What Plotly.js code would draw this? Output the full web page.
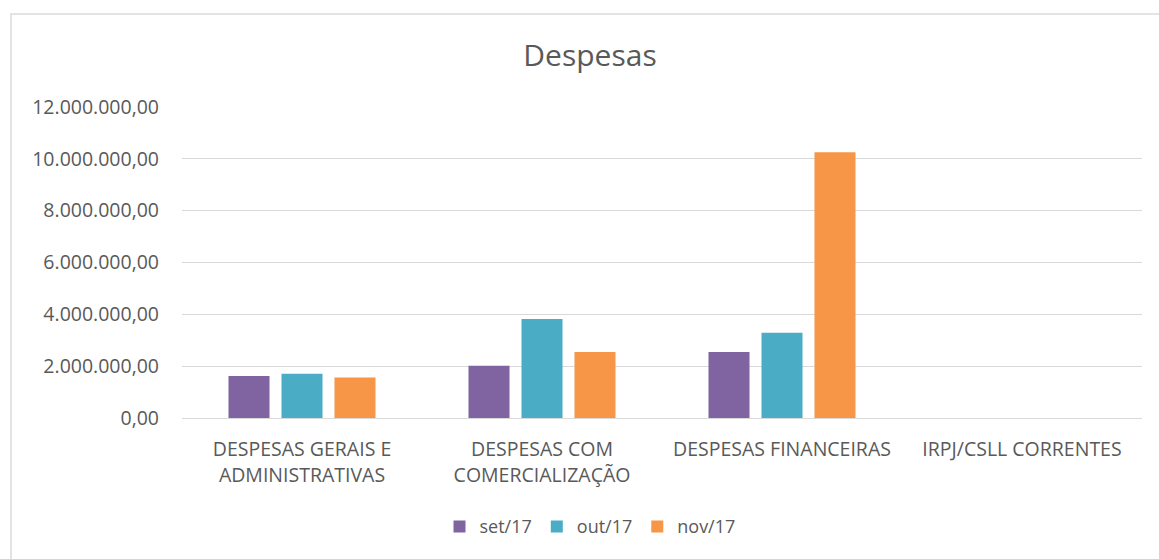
<!DOCTYPE html>
<html>
<head>
<meta charset="utf-8">
<script src="https://cdn.plot.ly/plotly-3.0.1.min.js"></script>
<style>
  html, body { margin: 0; padding: 0; background: #ffffff; }
  #wrap { position: relative; width: 1159px; height: 559px; overflow: hidden; }
  #chart { position: absolute; left: 0; top: 0; width: 1159px; height: 559px; }
  #frame { position: absolute; left: 10px; top: 13px; width: 1300px; height: 700px;
           border-left: 2px solid #e3e3e3; border-top: 2px solid #e3e3e3; pointer-events: none; }
</style>
</head>
<body>
<div id="wrap">
  <div id="chart"></div>
  <div id="frame"></div>
</div>
<script>
const categories = [
  "DESPESAS GERAIS E<br>ADMINISTRATIVAS",
  "DESPESAS COM<br>COMERCIALIZAÇÃO",
  "DESPESAS FINANCEIRAS",
  "IRPJ/CSLL CORRENTES"
];
const seriesNames = ["set/17", "out/17", "nov/17"];
const set17 = [1620000, 2020000, 2550000, 0];
const out17 = [1710000, 3820000, 3290000, 0];
const nov17 = [1560000, 2550000, 10250000, 0];
const colors = ["#8064A2", "#4BACC6", "#F79646"];
const yTicks = [0, 2000000, 4000000, 6000000, 8000000, 10000000, 12000000];

const FONT = "'Open Sans', 'Noto Sans', sans-serif";
const seriesValues = [set17, out17, nov17];

const traces = seriesValues.map((vals, i) => ({
  type: "bar",
  name: seriesNames[i],
  x: categories,
  y: vals,
  marker: { color: colors[i], line: { width: 0 } },
  hoverinfo: "x+y+name"
}));

const layout = {
  width: 1159,
  height: 559,
  paper_bgcolor: "#ffffff",
  plot_bgcolor: "#ffffff",
  separators: ",.",
  margin: { l: 182, r: 17, t: 107, b: 141, pad: 0, autoexpand: false },
  barmode: "group",
  bargap: 0.3375,
  bargroupgap: 0.226,
  font: { family: FONT, color: "#595959", size: 18 },
  title: {
    text: "Despesas",
    font: { family: FONT, size: 30, color: "#595959" },
    x: 0.425, xref: "paper", xanchor: "center",
    y: 1 - 55 / 559, yref: "container", yanchor: "middle"
  },
  xaxis: {
    type: "category",
    automargin: false,
    showgrid: false,
    showline: true,
    linecolor: "#d9d9d9",
    linewidth: 1,
    ticks: "",
    ticklabelstandoff: 14,
    tickfont: { family: FONT, size: 19.5, color: "#595959" },
    fixedrange: true
  },
  yaxis: {
    automargin: false,
    range: [0, 12000000],
    tickvals: yTicks,
    tickformat: ",.2f",
    showgrid: true,
    gridcolor: "#d9d9d9",
    gridwidth: 1,
    zeroline: false,
    showline: false,
    ticks: "",
    ticklabelstandoff: 22,
    tickfont: { family: FONT, size: 19.5, color: "#595959" },
    fixedrange: true
  },
  legend: {
    orientation: "h",
    x: 0.425, xanchor: "center", xref: "paper",
    y: -0.29, yanchor: "top",
    font: { family: FONT, size: 18, color: "#595959" },
    bgcolor: "rgba(0,0,0,0)",
    itemclick: false
  },
  showlegend: true
};

Plotly.newPlot("chart", traces, layout, { displayModeBar: false, staticPlot: true });
</script>
</body>
</html>
